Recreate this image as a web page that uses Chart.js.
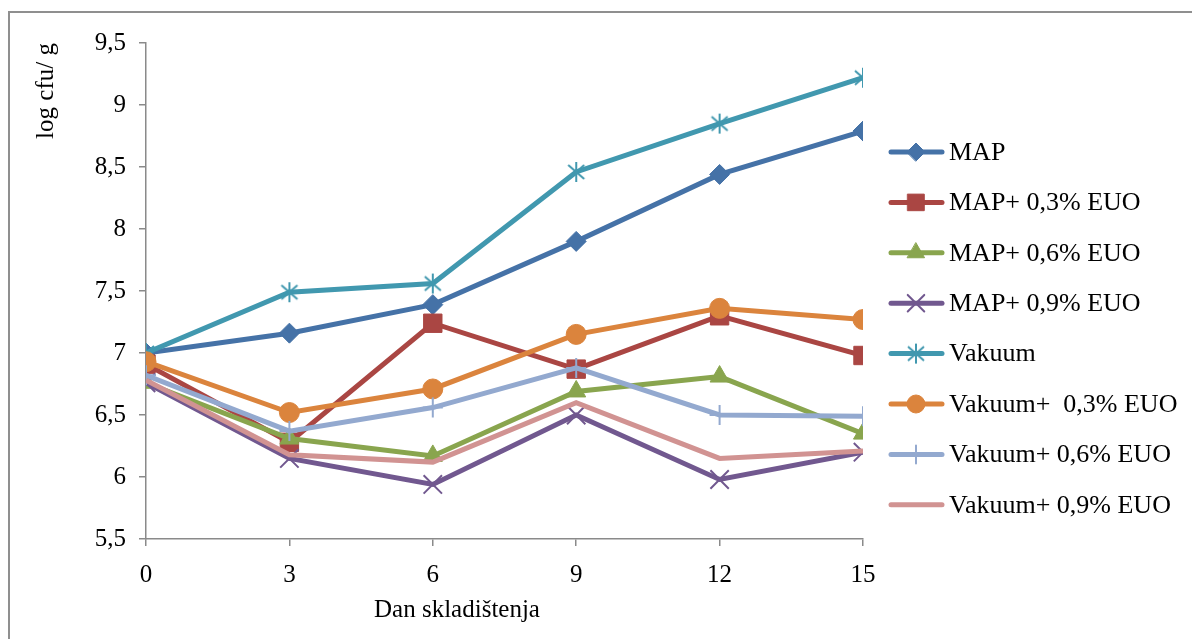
<!DOCTYPE html>
<html>
<head>
<meta charset="utf-8">
<script src="https://cdn.jsdelivr.net/npm/chart.js@4/dist/chart.umd.min.js"></script>
<style>
  html, body { margin: 0; padding: 0; background: #fff; overflow: hidden; }
  #frame { position: absolute; left: 8px; top: 11px; width: 1300px; height: 800px;
           border: 2px solid #8f8f8f; box-sizing: border-box; }
  #c { position: absolute; left: 0; top: 0; }
</style>
</head>
<body>
<div id="frame"></div>
<canvas id="c" width="1192" height="639"></canvas>
<script>
// Storage day (x axis)
const days = [0, 3, 6, 9, 12, 15];

// log cfu/g per treatment
const seriesNames = [
  'MAP', 'MAP+ 0,3% EUO', 'MAP+ 0,6% EUO', 'MAP+ 0,9% EUO',
  'Vakuum', 'Vakuum+  0,3% EUO', 'Vakuum+ 0,6% EUO', 'Vakuum+ 0,9% EUO'
];
const map     = [7.00, 7.16, 7.39, 7.90, 8.44, 8.79];
const map03   = [6.91, 6.28, 7.24, 6.87, 7.30, 6.98];
const map06   = [6.76, 6.31, 6.17, 6.69, 6.81, 6.35];
const map09   = [6.76, 6.15, 5.94, 6.50, 5.98, 6.20];
const vak     = [7.00, 7.49, 7.56, 8.46, 8.85, 9.22];
const vak03   = [6.93, 6.52, 6.71, 7.15, 7.36, 7.27];
const vak06   = [6.82, 6.37, 6.56, 6.88, 6.50, 6.49];
const vak09   = [6.78, 6.18, 6.12, 6.60, 6.15, 6.21];

// y axis tick values
const yTicks = [5.5, 6, 6.5, 7, 7.5, 8, 8.5, 9, 9.5];

const colors = ['#4572A7', '#AA4643', '#89A54E', '#71588F',
                '#4198AF', '#DB843D', '#93A9CF', '#D19392'];

const FONT = '"Liberation Serif", "Times New Roman", serif';

// asterisk marker: vertical stroke plus two diagonals
function makeAsterisk(color) {
  const cv = document.createElement('canvas');
  cv.width = 22; cv.height = 22;
  const g = cv.getContext('2d');
  g.strokeStyle = color; g.lineWidth = 2;
  g.beginPath();
  g.moveTo(11, 1); g.lineTo(11, 21);
  g.moveTo(3, 4); g.lineTo(19, 18);
  g.moveTo(19, 4); g.lineTo(3, 18);
  g.stroke();
  return cv;
}

const values = [map, map03, map06, map09, vak, vak03, vak06, vak09];
const markers = [
  { pointStyle: 'rectRot', radius: 10, bw: 1 },
  { pointStyle: 'rect', radius: 13, bw: 1 },
  { pointStyle: 'triangle', radius: 11, bw: 1 },
  { pointStyle: 'crossRot', radius: 13, bw: 2 },
  { pointStyle: makeAsterisk(colors[4]), radius: 11, bw: 2 },
  { pointStyle: 'circle', radius: 10, bw: 1 },
  { pointStyle: 'cross', radius: 10, bw: 2 },
  { pointStyle: 'circle', radius: 0, bw: 0 }
];

const datasets = values.map((vals, i) => ({
  label: seriesNames[i],
  data: days.map((d, k) => ({ x: d, y: vals[k] })),
  borderColor: colors[i],
  backgroundColor: colors[i],
  borderWidth: 5,
  pointStyle: markers[i].pointStyle,
  pointRadius: markers[i].radius,
  pointBorderWidth: markers[i].bw,
  pointBorderColor: colors[i],
  pointBackgroundColor: colors[i],
  order: values.length - i,
  tension: 0
}));

const fmt = v => String(v).replace('.', ',');

// legend: short line with the series marker in its middle
const sideLegend = {
  id: 'sideLegend',
  afterDraw(chart) {
    const ctx = chart.ctx;
    ctx.save();
    chart.data.datasets.forEach((ds, i) => {
      const y = 152 + i * 50.4;
      ctx.strokeStyle = ds.borderColor;
      ctx.lineWidth = 5;
      ctx.lineCap = 'round';
      ctx.beginPath();
      ctx.moveTo(891, y); ctx.lineTo(942, y);
      ctx.stroke();
      if (ds.pointRadius > 0) {
        ctx.fillStyle = ds.backgroundColor;
        ctx.strokeStyle = ds.borderColor;
        ctx.lineWidth = ds.pointBorderWidth;
        Chart.helpers.drawPoint(ctx, {
          pointStyle: ds.pointStyle,
          radius: ds.pointRadius * 0.9,
          borderWidth: ds.pointBorderWidth,
          rotation: 0
        }, 916, y);
      }
      ctx.fillStyle = '#000';
      ctx.font = '26px ' + FONT;
      ctx.textBaseline = 'middle';
      ctx.textAlign = 'left';
      ctx.fillText(ds.label, 949, y + 1);
    });
    ctx.restore();
  }
};

// axis titles
const axisTitles = {
  id: 'axisTitles',
  afterDraw(chart) {
    const ctx = chart.ctx;
    ctx.save();
    ctx.fillStyle = '#000';
    ctx.font = '25px ' + FONT;
    ctx.textAlign = 'center';
    ctx.textBaseline = 'middle';
    ctx.fillText('Dan skladištenja', 457, 610);
    ctx.translate(46, 91);
    ctx.rotate(-Math.PI / 2);
    ctx.fillText('log cfu/ g', 0, 0);
    ctx.restore();
  }
};

new Chart(document.getElementById('c'), {
  type: 'line',
  data: { datasets },
  plugins: [sideLegend, axisTitles],
  options: {
    responsive: false,
    animation: false,
    events: [],
    layout: { padding: { top: 43, right: 329, left: 0, bottom: 0 } },
    plugins: { legend: { display: false }, tooltip: { enabled: false } },
    scales: {
      x: {
        type: 'linear',
        min: days[0], max: days[days.length - 1],
        afterBuildTicks: s => { s.ticks = days.map(v => ({ value: v })); },
        afterFit: s => { s.height = 100; },
        grid: { display: true, drawOnChartArea: false, tickLength: 7, color: '#8a8a8a', lineWidth: 1.5 },
        border: { display: true, color: '#8a8a8a', width: 1.5 },
        ticks: { color: '#000', font: { family: FONT, size: 25 }, padding: 14, maxRotation: 0,
                 callback: v => fmt(v) }
      },
      y: {
        type: 'linear',
        min: yTicks[0], max: yTicks[yTicks.length - 1],
        afterBuildTicks: s => { s.ticks = yTicks.map(v => ({ value: v })); },
        afterFit: s => { s.width = 146; },
        grid: { display: true, drawOnChartArea: false, tickLength: 7, color: '#8a8a8a', lineWidth: 1.5 },
        border: { display: true, color: '#8a8a8a', width: 1.5 },
        ticks: { color: '#000', font: { family: FONT, size: 25 }, padding: 13,
                 callback: v => fmt(v) }
      }
    }
  }
});
</script>
</body>
</html>
